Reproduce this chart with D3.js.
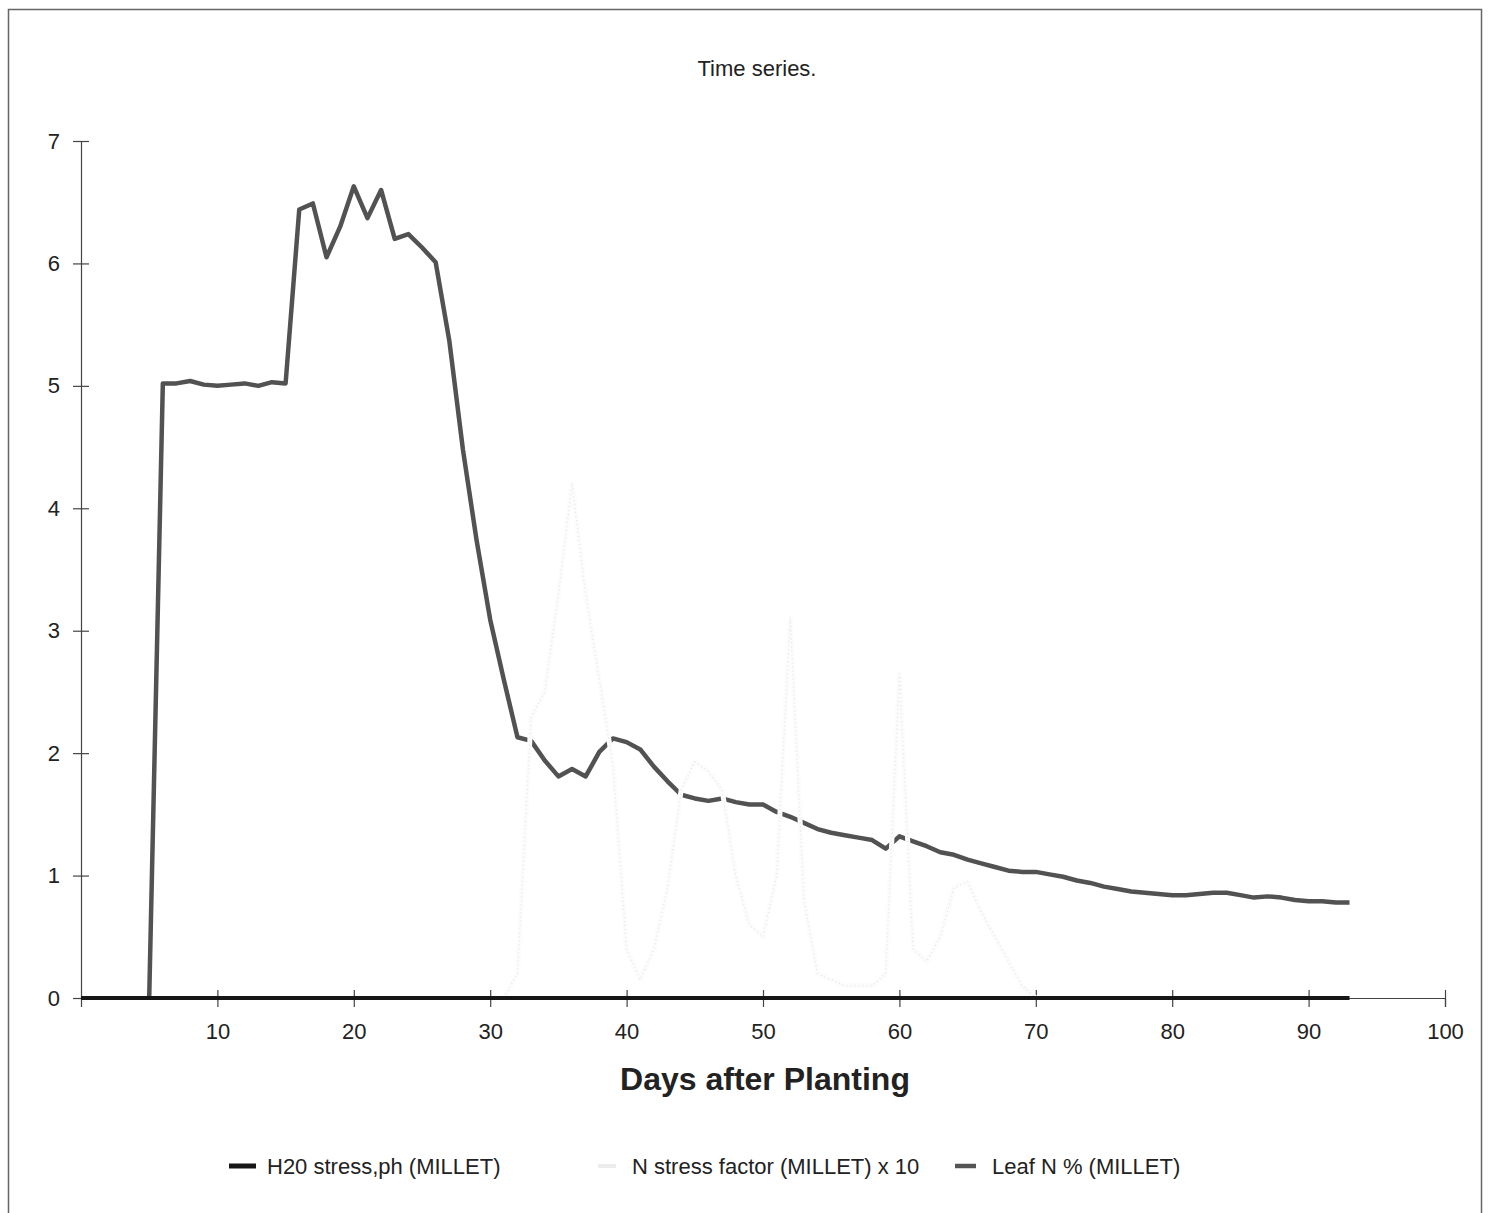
<!DOCTYPE html>
<html>
<head>
<meta charset="utf-8">
<script src="https://cdn.jsdelivr.net/npm/d3@7"></script>
<style>
  html, body { margin: 0; padding: 0; background: #fff; }
  svg text { font-family: "Liberation Sans", Arial, sans-serif; fill: #222; }
</style>
</head>
<body>
<svg id="chart" width="1488" height="1213"></svg>
<script>
// Days after planting for the two crop series
const days = d3.range(0, 94);
const leafDays = d3.range(5, 94);

// Leaf N % (MILLET), days 5..93
const leafN = [
  0.00, 5.02, 5.02, 5.04, 5.01, 5.00, 5.01, 5.02, 5.00, 5.03, 5.02,
  6.44, 6.49, 6.05, 6.30, 6.63, 6.37, 6.60, 6.20, 6.24, 6.13, 6.01,
  5.37, 4.48, 3.74, 3.09, 2.60, 2.13, 2.10, 1.94, 1.81, 1.87, 1.81,
  2.01, 2.12, 2.09, 2.03, 1.89, 1.77, 1.66, 1.63, 1.61, 1.63, 1.60,
  1.58, 1.58, 1.52, 1.48, 1.43, 1.38, 1.35, 1.33, 1.31, 1.29, 1.22,
  1.32, 1.28, 1.24, 1.19, 1.17, 1.13, 1.10, 1.07, 1.04, 1.03, 1.03,
  1.01, 0.99, 0.96, 0.94, 0.91, 0.89, 0.87, 0.86, 0.85, 0.84, 0.84,
  0.85, 0.86, 0.86, 0.84, 0.82, 0.83, 0.82, 0.80, 0.79, 0.79, 0.78,
  0.78
];

// N stress factor (MILLET) x 10, days 0..93
const nStress = [
  0, 0, 0, 0, 0, 0, 0, 0, 0, 0, 0, 0, 0, 0, 0, 0, 0, 0, 0, 0,
  0, 0, 0, 0, 0, 0, 0, 0, 0, 0, 0, 0,
  0.2, 2.3, 2.5, 3.3, 4.2, 3.3, 2.6, 1.9, 0.4, 0.15,
  0.4, 0.9, 1.7, 1.93, 1.85, 1.7, 1.0, 0.6, 0.5, 1.0,
  3.1, 0.8, 0.2, 0.15, 0.1, 0.1, 0.1, 0.2, 2.65, 0.4,
  0.3, 0.5, 0.9, 0.95, 0.7, 0.5, 0.3, 0.1, 0,
  0, 0, 0, 0, 0, 0, 0, 0, 0, 0, 0, 0, 0, 0, 0, 0, 0, 0, 0, 0, 0, 0, 0, 0
];

// H20 stress,ph (MILLET), days 0..93
const h2oStress = days.map(() => 0);

const xTicks = [10, 20, 30, 40, 50, 60, 70, 80, 90, 100];
const yTicks = [0, 1, 2, 3, 4, 5, 6, 7];
const seriesNames = ["H20 stress,ph (MILLET)", "N stress factor (MILLET) x 10", "Leaf N % (MILLET)"];

const svg = d3.select("#chart");

// outer frame
svg.append("rect")
  .attr("x", 8.5).attr("y", 9.5).attr("width", 1473).attr("height", 1210)
  .attr("fill", "none").attr("stroke", "#666").attr("stroke-width", 1.5);

const x = d3.scaleLinear().domain([0, 100]).range([81, 1445]);
const y = d3.scaleLinear().domain([0, 7]).range([998, 141]);

// title
svg.append("text")
  .attr("x", 757).attr("y", 76)
  .attr("text-anchor", "middle")
  .attr("font-size", 22)
  .text("Time series.");

// y axis
const yAxis = svg.append("g")
  .attr("transform", `translate(${x(0)},0)`)
  .call(d3.axisLeft(y).tickValues(yTicks).tickFormat(d3.format("d")).tickSize(7).tickPadding(14));
yAxis.select(".domain").attr("stroke", "#444").attr("stroke-width", 1.2);
yAxis.selectAll(".tick line").attr("x1", 8).attr("x2", -8).attr("stroke", "#444").attr("stroke-width", 1.2);
yAxis.selectAll(".tick text")
  .attr("font-size", 22)
  .attr("font-family", "Liberation Sans, Arial, sans-serif")
  .attr("fill", "#222");

// x axis
const xAxis = svg.append("g")
  .attr("transform", `translate(0,${y(0)})`)
  .call(d3.axisBottom(x).tickValues(xTicks).tickFormat(d3.format("d")).tickSize(9).tickPadding(16));
xAxis.select(".domain").attr("stroke", "#444").attr("stroke-width", 1.2);
xAxis.selectAll(".tick line").attr("y1", -8).attr("y2", 9).attr("stroke", "#444").attr("stroke-width", 1.2);
xAxis.selectAll(".tick text")
  .attr("font-size", 22)
  .attr("font-family", "Liberation Sans, Arial, sans-serif")
  .attr("fill", "#222");

// x axis title
svg.append("text")
  .attr("x", 765).attr("y", 1090)
  .attr("text-anchor", "middle")
  .attr("font-size", 32)
  .attr("font-weight", "bold")
  .text("Days after Planting");

const line = d3.line().x(d => x(d[0])).y(d => y(d[1]));

// Leaf N %
svg.append("path")
  .datum(leafDays.map((d, i) => [d, leafN[i]]))
  .attr("fill", "none")
  .attr("stroke", "#525252")
  .attr("stroke-width", 4.5)
  .attr("stroke-linejoin", "round")
  .attr("d", line);

// N stress factor x 10 (very light, drawn over the leaf N line)
const nData = days.map((d, i) => [d, nStress[i]]).filter(d => d[0] >= 31 && d[0] <= 70);
svg.append("path")
  .datum(nData)
  .attr("fill", "none")
  .attr("stroke", "#fcfcfc")
  .attr("stroke-width", 5)
  .attr("stroke-linejoin", "round")
  .attr("d", line);
svg.append("path")
  .datum(nData)
  .attr("fill", "none")
  .attr("stroke", "#e3e3e3")
  .attr("stroke-width", 1.2)
  .attr("stroke-dasharray", "1,3")
  .attr("d", line);

// H20 stress
svg.append("path")
  .datum(days.map((d, i) => [d, h2oStress[i]]))
  .attr("fill", "none")
  .attr("stroke", "#161616")
  .attr("stroke-width", 4)
  .attr("d", line);

// legend
const legend = svg.append("g");
const legendItems = [
  { name: seriesNames[0], x0: 229, x1: 256, tx: 267, color: "#161616", w: 5 },
  { name: seriesNames[1], x0: 598, x1: 616, tx: 632, color: "#ececec", w: 4 },
  { name: seriesNames[2], x0: 955, x1: 976, tx: 992, color: "#555", w: 4.5 }
];
legendItems.forEach(it => {
  legend.append("line")
    .attr("x1", it.x0).attr("x2", it.x1)
    .attr("y1", 1166).attr("y2", 1166)
    .attr("stroke", it.color).attr("stroke-width", it.w);
  legend.append("text")
    .attr("x", it.tx).attr("y", 1174)
    .attr("font-size", 22)
    .text(it.name);
});
</script>
</body>
</html>
